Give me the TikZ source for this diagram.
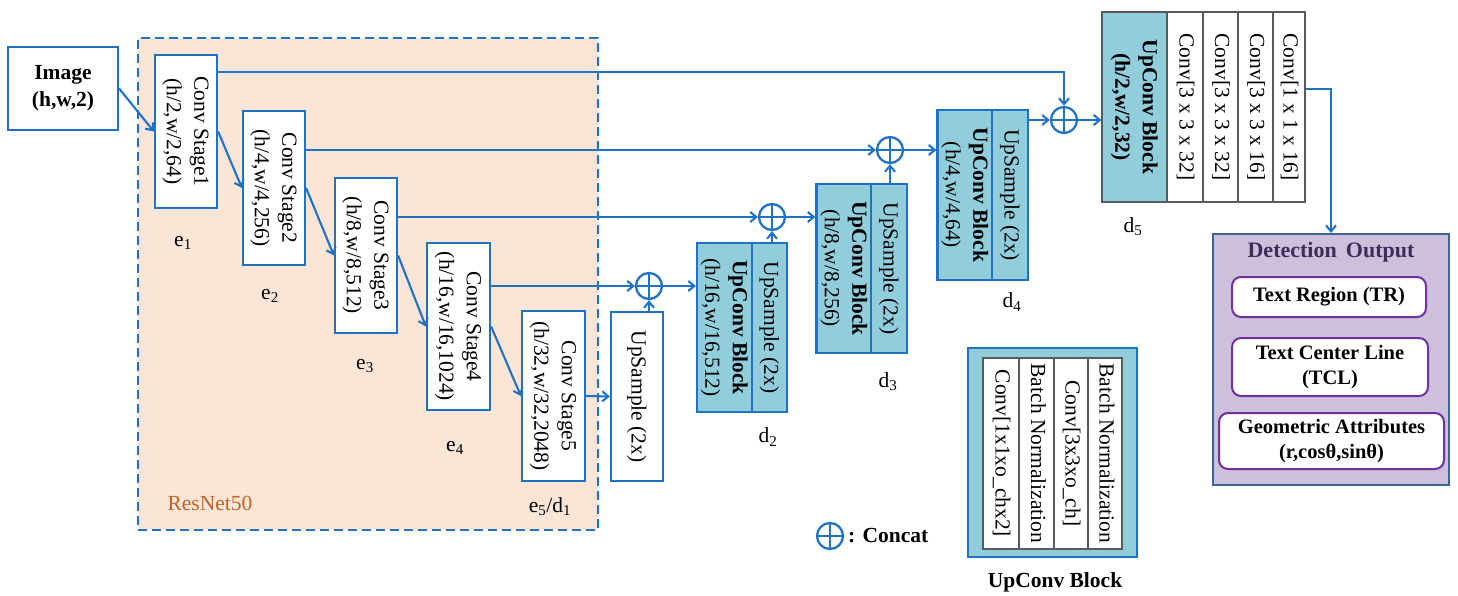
\documentclass[tikz,border=0pt]{standalone}
\usepackage{fontspec}
\usepackage{graphicx}
\setmainfont{Liberation Serif}
\usetikzlibrary{arrows.meta,calc}
\definecolor{lblue}{RGB}{31,114,196}
\definecolor{peach}{RGB}{251,229,214}
\definecolor{teal2}{RGB}{146,205,220}
\definecolor{lav}{RGB}{204,192,218}
\definecolor{detb}{RGB}{60,100,150}
\definecolor{dett}{RGB}{60,45,90}
\definecolor{purp}{RGB}{112,48,160}
\definecolor{rnc}{RGB}{190,100,40}
\definecolor{gline}{RGB}{90,90,90}
\newcommand{\fs}{\fontsize{21.5}{27.5}\selectfont}
\newcommand{\vt}[1]{\rotatebox{-90}{\begin{tabular}{@{}c@{}}#1\end{tabular}}}
\begin{document}
\begin{tikzpicture}[x=1pt,y=-1pt,
  box/.style={draw=lblue, line width=2.2pt, fill=white, inner sep=0pt, font=\fs},
  ubox/.style={draw=lblue, line width=2.2pt, fill=teal2, inner sep=0pt, font=\fs},
  gbox/.style={draw=gline, line width=1.2pt, fill=white, inner sep=0pt, font=\fs},
  lab/.style={font=\fs, inner sep=0pt},
  arr/.style={draw=lblue, line width=2.1pt, -{Straight Barb[length=6pt,width=10pt]}},
  concat/.style={circle, draw=lblue, line width=2.3pt, minimum size=26pt, inner sep=0pt,
    path picture={\draw[lblue, line width=2.3pt] (path picture bounding box.north) -- (path picture bounding box.south)
      (path picture bounding box.west) -- (path picture bounding box.east);}},
  outbox/.style={draw=purp, line width=2pt, fill=white, rounded corners=9pt, inner sep=0pt,
    font=\fontsize{20.5}{25}\selectfont\bfseries, align=center},
]
\useasboundingbox (0,0) rectangle (1458,596);
\fill[white] (0,0) rectangle (1458,596);

% ResNet50 frame
\node[draw=lblue, dash pattern=on 9pt off 5pt, line width=2.2pt, fill=peach,
  minimum width=460pt, minimum height=492pt, inner sep=0pt] (rn) at (368,284) {};
\node[lab, text=rnc] (rnl) at (210,503) {ResNet50};

% input
\node[box, minimum width=110pt, minimum height=83pt, align=center, font=\fs\bfseries] (img) at (63,88.5) {Image\\(h,w,2)};

% encoder stages
\node[box, minimum width=62pt, minimum height=153pt] (s1) at (186,131.5) {\vt{Conv Stage1\\(h/2,w/2,64)}};
\node[box, minimum width=62pt, minimum height=154pt] (s2) at (274,188) {\vt{Conv Stage2\\(h/4,w/4,256)}};
\node[box, minimum width=62pt, minimum height=155pt] (s3) at (366,255.5) {\vt{Conv Stage3\\(h/8,w/8,512)}};
\node[box, minimum width=63pt, minimum height=167pt] (s4) at (458.5,326.5) {\vt{Conv Stage4\\(h/16,w/16,1024)}};
\node[box, minimum width=63pt, minimum height=170pt] (s5) at (553.5,396) {\vt{Conv Stage5\\(h/32,w/32,2048)}};
\node[box, minimum width=52pt, minimum height=169pt] (up) at (637,396.5) {\vt{UpSample (2x)}};

\node[lab] (e1) at (183,243) {e\textsubscript{1}};
\node[lab] (e2) at (270,296) {e\textsubscript{2}};
\node[lab] (e3) at (365,366) {e\textsubscript{3}};
\node[lab] (e4) at (455,448) {e\textsubscript{4}};
\node[lab] (e5) at (550,507) {e\textsubscript{5}/d\textsubscript{1}};

% decoder blocks
\node[ubox, minimum width=55pt, minimum height=169pt] (d2l) at (724.5,327.5) {\vt{\textbf{UpConv Block}\\(h/16,w/16,512)}};
\node[ubox, minimum width=35pt, minimum height=169pt] (d2r) at (769.5,327.5) {\vt{UpSample (2x)}};
\node[ubox, minimum width=54pt, minimum height=169pt] (d3l) at (844,268.5) {\vt{\textbf{UpConv Block}\\(h/8,w/8,256)}};
\node[ubox, minimum width=36pt, minimum height=169pt] (d3r) at (889,268.5) {\vt{UpSample (2x)}};
\node[ubox, minimum width=54pt, minimum height=170pt] (d4l) at (965,195) {\vt{\textbf{UpConv Block}\\(h/4,w/4,64)}};
\node[ubox, minimum width=36pt, minimum height=170pt] (d4r) at (1010,195) {\vt{UpSample (2x)}};
\node[lab] (ld2) at (768,437) {d\textsubscript{2}};
\node[lab] (ld3) at (888,382) {d\textsubscript{3}};
\node[lab] (ld4) at (1012,302) {d\textsubscript{4}};

% d5
\node[gbox, fill=teal2, minimum width=65pt, minimum height=190pt, font=\fs\bfseries] (d5t) at (1134.5,107) {\vt{UpConv Block\\(h/2,w/2,32)}};
\node[gbox, minimum width=36pt, minimum height=190pt] (d5a) at (1185,107) {\vt{Conv[3 x 3 x 32]}};
\node[gbox, minimum width=35pt, minimum height=190pt] (d5b) at (1220.5,107) {\vt{Conv[3 x 3 x 32]}};
\node[gbox, minimum width=35pt, minimum height=190pt] (d5c) at (1255.5,107) {\vt{Conv[3 x 3 x 16]}};
\node[gbox, minimum width=32pt, minimum height=190pt] (d5d) at (1289,107) {\vt{Conv[1 x 1 x 16]}};
\node[lab] (ld5) at (1133,227) {d\textsubscript{5}};

% concat nodes
\node[concat] (c1) at (649,286) {};
\node[concat] (c2) at (772,217) {};
\node[concat] (c3) at (890,150) {};
\node[concat] (c4) at (1064,120) {};

% detection output
\node[draw=detb, line width=2pt, fill=lav, minimum width=236pt, minimum height=251pt, inner sep=0pt] (det) at (1331,359.5) {};
\node[font=\fontsize{22}{26}\selectfont\bfseries, text=dett, inner sep=0pt] (dett) at (1331,252) {Detection\, Output};
\node[outbox, minimum width=194pt, minimum height=40pt] (tr) at (1329,297) {Text Region (TR)};
\node[outbox, minimum width=196pt, minimum height=58pt] (tcl) at (1330,367) {Text Center Line\\(TCL)};
\node[outbox, minimum width=225pt, minimum height=56pt] (geo) at (1331.5,441) {Geometric Attributes\\(r,cosθ,sinθ)};

% legend
\node[concat] (cl) at (830,536) {};
\node[lab, anchor=west, font=\fs\bfseries] (cll) at (848,536) {: Concat};
\node[ubox, line width=2.5pt, minimum width=169pt, minimum height=209pt] (ul) at (1052.5,452.5) {};
\node[gbox, minimum width=36pt, minimum height=191pt] (ula) at (1001,453.5) {\vt{Conv[1x1xo\_chx2]}};
\node[gbox, minimum width=35pt, minimum height=191pt] (ulb) at (1036.5,453.5) {\vt{Batch Normalization}};
\node[gbox, minimum width=34pt, minimum height=191pt] (ulc) at (1071,453.5) {\vt{Conv[3x3xo\_ch]}};
\node[gbox, minimum width=34pt, minimum height=191pt] (uld) at (1105,453.5) {\vt{Batch Normalization}};
\node[lab, font=\fs\bfseries] (ull) at (1055,582) {UpConv Block};

% connectors
\draw[arr] (img.east) -- (s1.west);
\draw[arr] (s1.east) -- (s2.west);
\draw[arr] (s2.east) -- (s3.west);
\draw[arr] (s3.east) -- (s4.west);
\draw[arr] (s4.east) -- (s5.west);
\draw[arr] (s5.east) -- (up.west);
\draw[arr] (c1 |- up.north) -- (c1.south);
\draw[arr] (s4.east |- c1) -- (c1.west);
\draw[arr] (c1.east) -- (c1 -| d2l.west);
\draw[arr] (s3.east |- c2) -- (c2.west);
\draw[arr] (c2 |- d2r.north) -- (c2.south);
\draw[arr] (c2.east) -- (c2 -| d3l.west);
\draw[arr] (s2.east |- c3) -- (c3.west);
\draw[arr] (c3 |- d3r.north) -- (c3.south);
\draw[arr] (c3.east) -- (c3 -| d4l.west);
\draw[arr] (s1.east |- 0,72) -| (c4.north);
\draw[arr] (d4r.east |- c4) -- (c4.west);
\draw[arr] (c4.east) -- (c4 -| d5t.west);
\draw[arr] (d5d.east |- 0,89) -| (det.north);
\end{tikzpicture}
\end{document}
